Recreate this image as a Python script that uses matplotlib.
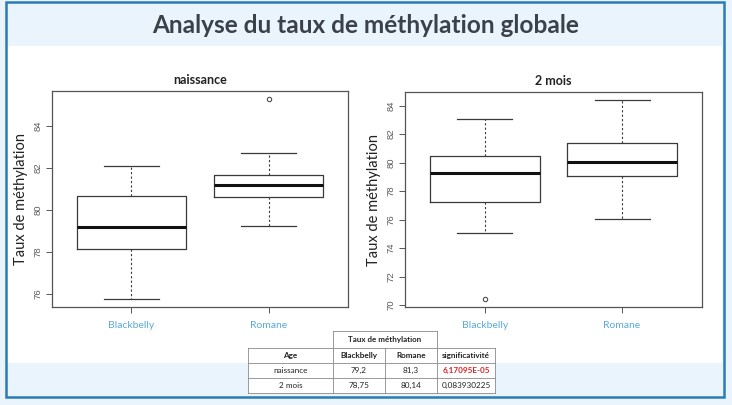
import matplotlib
matplotlib.use("Agg")
import matplotlib.pyplot as plt
from matplotlib.patches import Rectangle
from matplotlib.lines import Line2D

# ---------------- data ----------------
groups = ["Blackbelly", "Romane"]
panel_titles = ["naissance", "2 mois"]

# naissance
nais_whislo = [75.75, 79.25]
nais_q1 = [78.12, 80.62]
nais_med = [79.20, 81.17]
nais_q3 = [80.66, 81.68]
nais_whishi = [82.07, 82.73]
nais_fliers = [[], [85.3]]

# 2 mois
mois_whislo = [75.05, 76.03]
mois_q1 = [77.22, 79.03]
mois_med = [79.28, 80.02]
mois_q3 = [80.48, 81.36]
mois_whishi = [83.05, 84.41]
mois_fliers = [[70.4], []]

yticks_nais = [76, 78, 80, 82, 84]
yticks_mois = [70, 72, 74, 76, 78, 80, 82, 84]

title = "Analyse du taux de méthylation globale"
ylabel = "Taux de méthylation"

table_super = "Taux de méthylation"
table_cols = ["Age", "Blackbelly", "Romane", "significativité"]
table_rows = [["naissance", "79,2", "81,3", "6,17095E-05"],
              ["2 mois", "78,75", "80,14", "0,083930225"]]
table_highlight = [True, False]

# ---------------- figure ----------------
W, H = 732, 405
fig = plt.figure(figsize=(W / 100, H / 100), dpi=100)
fig.patch.set_facecolor("#eaf4fc")

def px(x, y):
    return x / W, 1 - y / H

# white content area
x0, y0 = px(7, 363)
fig.patches.append(Rectangle((x0, y0), (722 - 7) / W, (363 - 46) / H,
                             transform=fig.transFigure, facecolor="white",
                             edgecolor="none", zorder=-2))
# frame
x0, y0 = px(6, 396.5)
fig.patches.append(Rectangle((x0, y0), (724.3 - 6) / W, (396.5 - 1.5) / H,
                             transform=fig.transFigure, facecolor="none",
                             edgecolor="#2b7cb3", linewidth=1.8, zorder=5))

fig.text(366 / W, 1 - 33.3 / H, title, ha="center", va="baseline",
         fontsize=17.6, fontweight="bold", family="Lato", color="#3b4148")

def make_stats(whislo, q1, med, q3, whishi, fliers):
    return [dict(whislo=a, q1=b, med=c, q3=d, whishi=e, fliers=f, label=g)
            for a, b, c, d, e, f, g in zip(whislo, q1, med, q3, whishi, fliers, groups)]

panels = [
    (make_stats(nais_whislo, nais_q1, nais_med, nais_q3, nais_whishi, nais_fliers),
     yticks_nais, (52, 90.7, 348, 307)),
    (make_stats(mois_whislo, mois_q1, mois_med, mois_q3, mois_whishi, mois_fliers),
     yticks_mois, (405, 91.7, 701.7, 307.3)),
]

edge = "#3a3a3a"
for (stats, yt, (l, t, r, b)), ptitle in zip(panels, panel_titles):
    ax = fig.add_axes([l / W, 1 - b / H, (r - l) / W, (b - t) / H])
    ax.set_zorder(2)
    ax.set_facecolor("none")
    ax.bxp(stats, positions=[1, 2], widths=0.8, showfliers=True,
           boxprops=dict(color=edge, linewidth=0.9),
           medianprops=dict(color="#111111", linewidth=2.2),
           whiskerprops=dict(color=edge, linewidth=0.8, linestyle=(0, (2, 2))),
           capprops=dict(color=edge, linewidth=0.9),
           capwidths=0.4,
           flierprops=dict(marker="o", markersize=3.2, markerfacecolor="none",
                           markeredgecolor=edge, markeredgewidth=0.7))
    lo = min(min(s["whislo"], *(s["fliers"] or [s["whislo"]])) for s in stats)
    hi = max(max(s["whishi"], *(s["fliers"] or [s["whishi"]])) for s in stats)
    pad = (hi - lo) * 0.04
    ax.set_ylim(lo - pad, hi + pad)
    ax.set_xlim(0.42, 2.58)
    ax.set_yticks(yt)
    ax.set_yticklabels([str(v) for v in yt], rotation=90, va="center",
                       family="Liberation Sans", fontsize=6.8, color="#5a5a5a")
    ax.set_xticks([1, 2])
    ax.set_xticklabels(groups, family="Lato", fontsize=7.5, color="#5aaad8")
    ax.tick_params(axis="y", length=4, width=0.7, color="#555555", pad=3)
    ax.tick_params(axis="x", length=4, width=0.7, color="#555555", pad=6)
    for s in ax.spines.values():
        s.set_color("#555555")
        s.set_linewidth(0.9)
    ax.set_title(ptitle, family="Lato", fontweight="bold", fontsize=9,
                 color="#222222", pad=5)
    ax.set_ylabel(ylabel, family="Lato", fontsize=10.5, color="#222222", labelpad=4)

# ---------------- table ----------------
col_edges = [248, 332.7, 385, 437.3, 495]
row_edges = [331, 347.7, 363.3, 378.3, 393.3]
lc = "#8a8a8a"
lw = 0.6

def hline(x1, x2, y):
    fig.lines.append(Line2D([x1 / W, x2 / W], [1 - y / H, 1 - y / H],
                            transform=fig.transFigure, color=lc, linewidth=lw, zorder=6))

def vline(x, y1, y2):
    fig.lines.append(Line2D([x / W, x / W], [1 - y1 / H, 1 - y2 / H],
                            transform=fig.transFigure, color=lc, linewidth=lw, zorder=6))

# white backgrounds
fig.patches.append(Rectangle((col_edges[0] / W, 1 - row_edges[-1] / H),
                             (col_edges[-1] - col_edges[0]) / W,
                             (row_edges[-1] - row_edges[1]) / H,
                             transform=fig.transFigure, facecolor="white",
                             edgecolor="none", zorder=4))
fig.patches.append(Rectangle((col_edges[1] / W, 1 - row_edges[1] / H),
                             (col_edges[3] - col_edges[1]) / W,
                             (row_edges[1] - row_edges[0]) / H,
                             transform=fig.transFigure, facecolor="white",
                             edgecolor="none", zorder=4))
# super header
hline(col_edges[1], col_edges[3], row_edges[0])
vline(col_edges[1], row_edges[0], row_edges[1])
vline(col_edges[3], row_edges[0], row_edges[1])
fig.text((col_edges[1] + col_edges[3]) / 2 / W, 1 - (row_edges[0] + row_edges[1]) / 2 / H,
         table_super, ha="center", va="center", fontsize=5.8, fontweight="bold",
         family="Lato", color="#222222", zorder=7)
for y in row_edges[1:]:
    hline(col_edges[0], col_edges[-1], y)
for x in col_edges:
    vline(x, row_edges[1], row_edges[-1])

all_rows = [table_cols] + table_rows
for i, row in enumerate(all_rows):
    yc = (row_edges[i + 1] + row_edges[i + 2]) / 2
    for j, txt in enumerate(row):
        xc = (col_edges[j] + col_edges[j + 1]) / 2
        bold = i == 0
        color = "#222222"
        if i > 0 and j == 3 and table_highlight[i - 1]:
            bold = True
            color = "#e02020"
        fig.text(xc / W, 1 - yc / H, txt, ha="center", va="center", fontsize=5.9,
                 fontweight="bold" if bold else "normal", family="Lato",
                 color=color, zorder=7)

fig.savefig("out.png", dpi=100, facecolor=fig.get_facecolor())
